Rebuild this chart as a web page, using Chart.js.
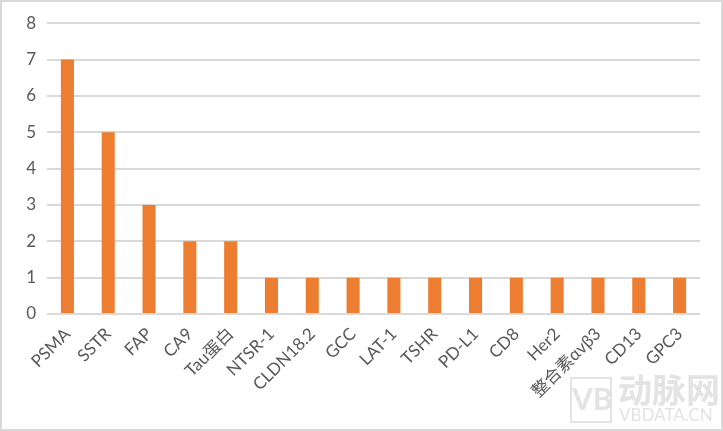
<!DOCTYPE html>
<html>
<head>
<meta charset="utf-8">
<script src="https://cdn.jsdelivr.net/npm/chart.js@4"></script>
<style>
    html, body { margin: 0; padding: 0; background: #fff; }
    #wrap {
        position: relative;
        width: 723px;
        height: 431px;
        box-sizing: border-box;
        border: 2px solid #D9D9D9;
    }
    #wrap canvas { display: block; }
</style>
</head>
<body>
<div id="wrap"><canvas id="chartTargets" width="719" height="427"></canvas></div>
<script>
// Datos del gráfico
const categorias = ['PSMA', 'SSTR', 'FAP', 'CA9', 'Tau蛋白', 'NTSR-1', 'CLDN18.2', 'GCC',
    'LAT-1', 'TSHR', 'PD-L1', 'CD8', 'Her2', '整合素αvβ3', 'CD13', 'GPC3'];
const valores = [7, 5, 3, 2, 2, 1, 1, 1, 1, 1, 1, 1, 1, 1, 1, 1];
const ticksY = [0, 1, 2, 3, 4, 5, 6, 7, 8];

const fuente = "Lato, 'Noto Sans CJK SC', sans-serif";

// marca de agua (texto tenue abajo a la derecha)
const marcaAgua = {
    id: 'marcaAgua',
    afterDraw(chart) {
        const c = chart.ctx;
        c.save();
        c.strokeStyle = '#E3E3E3';
        c.lineWidth = 2;
        c.strokeRect(569, 376, 40, 44);
        c.fillStyle = '#E3E3E3';
        c.font = "bold 30px " + fuente;
        c.textBaseline = 'middle';
        c.fillText('VB', 570, 398);
        c.font = "bold 34px 'Noto Sans CJK SC', sans-serif";
        c.fillText('动脉网', 616, 388);
        c.font = "17px " + fuente;
        c.fillText('VBDATA.CN', 617, 414);
        c.restore();
    }
};

new Chart(document.getElementById('chartTargets').getContext('2d'), {
    type: 'bar',
    data: {
        labels: categorias,
        datasets: [{
            data: valores,
            backgroundColor: '#ED7D31',
            barPercentage: 0.32,
            categoryPercentage: 1
        }]
    },
    options: {
        responsive: false,
        animation: false,
        layout: { padding: { top: 21, right: 21, left: 0, bottom: 0 } },
        plugins: {
            legend: { display: false },
            tooltip: { enabled: false }
        },
        scales: {
            x: {
                grid: { display: false, drawTicks: false },
                border: { display: false },
                ticks: {
                    color: '#595959',
                    font: { family: fuente, size: 17 },
                    minRotation: 45,
                    maxRotation: 45,
                    padding: 10,
                    autoSkip: false
                },
                afterFit: (scale) => { scale.height = 115; }
            },
            y: {
                min: 0,
                max: 8,
                afterBuildTicks: (scale) => { scale.ticks = ticksY.map(v => ({ value: v })); },
                grid: { color: '#D9D9D9', lineWidth: 2, drawTicks: false },
                border: { display: false },
                ticks: {
                    color: '#595959',
                    font: { family: fuente, size: 17 },
                    padding: 11
                },
                afterFit: (scale) => { scale.width = 45; }
            }
        }
    },
    plugins: [marcaAgua]
});
</script>
</body>
</html>
